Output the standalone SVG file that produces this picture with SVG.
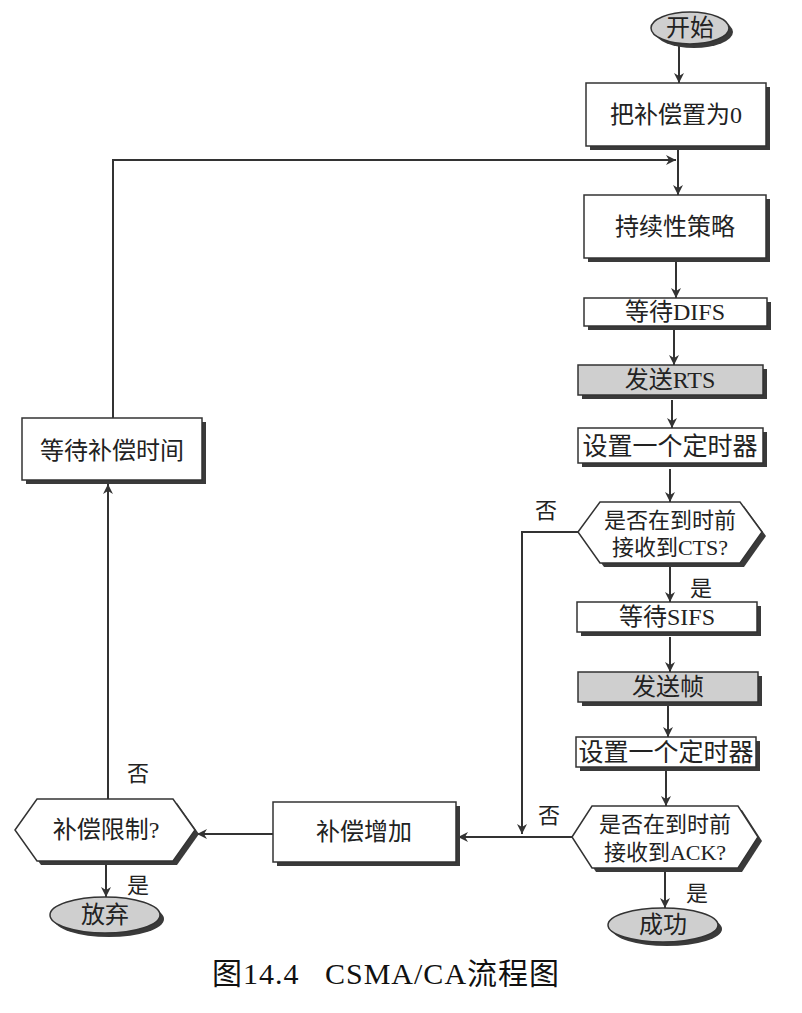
<svg xmlns="http://www.w3.org/2000/svg" width="802" height="1013" viewBox="0 0 802 1013">
<defs>
<style>
.bx{fill:#fff;stroke:#333;stroke-width:1.5}
.gb{fill:#cfcfcf;stroke:#333;stroke-width:1.5}
.sh{fill:#3a3a3a}
.t{font-family:"Liberation Serif","Noto Sans CJK SC",serif;font-size:24px;fill:#222;text-anchor:middle;dominant-baseline:central}
.lb{font-family:"Liberation Serif","Noto Sans CJK SC",serif;font-size:22px;fill:#222;text-anchor:middle;dominant-baseline:central}
.ln{fill:none;stroke:#333;stroke-width:2}
</style>
<marker id="ah" viewBox="0 0 10 10" refX="10" refY="5" markerWidth="10" markerHeight="10" markerUnits="userSpaceOnUse" orient="auto">
<path d="M0,0 L10,5 L0,10 L3,5 Z" fill="#333"/>
</marker>
</defs>
<rect width="802" height="1013" fill="#fff"/>

<g id="connectors">
<line class="ln" x1="679" y1="45" x2="679" y2="83" marker-end="url(#ah)"/>
<line class="ln" x1="678" y1="150" x2="678" y2="195" marker-end="url(#ah)"/>
<polyline class="ln" points="113,418 113,160 676,160" marker-end="url(#ah)"/>
<line class="ln" x1="676" y1="262" x2="676" y2="298" marker-end="url(#ah)"/>
<line class="ln" x1="674" y1="330" x2="674" y2="365" marker-end="url(#ah)"/>
<line class="ln" x1="672" y1="400" x2="672" y2="428" marker-end="url(#ah)"/>
<line class="ln" x1="670" y1="469" x2="670" y2="502" marker-end="url(#ah)"/>
<line class="ln" x1="670" y1="567" x2="670" y2="602" marker-end="url(#ah)"/>
<line class="ln" x1="670" y1="637" x2="670" y2="672" marker-end="url(#ah)"/>
<line class="ln" x1="668" y1="706" x2="668" y2="737" marker-end="url(#ah)"/>
<line class="ln" x1="666" y1="771" x2="666" y2="806" marker-end="url(#ah)"/>
<line class="ln" x1="665" y1="872" x2="665" y2="908" marker-end="url(#ah)"/>
<polyline class="ln" points="578,532 522,532 522,834" marker-end="url(#ah)"/>
<line class="ln" x1="572" y1="837" x2="458" y2="837" marker-end="url(#ah)"/>
<line class="ln" x1="273" y1="834" x2="197" y2="834" marker-end="url(#ah)"/>
<line class="ln" x1="108" y1="799" x2="108" y2="484" marker-end="url(#ah)"/>
<line class="ln" x1="106" y1="865" x2="106" y2="897" marker-end="url(#ah)"/>
<text class="lb" x="546" y="510">否</text>
<text class="lb" x="701" y="588">是</text>
<text class="lb" x="549" y="815">否</text>
<text class="lb" x="697" y="893">是</text>
<text class="lb" x="138" y="773">否</text>
<text class="lb" x="138" y="885">是</text>
</g>

<g id="start">
<ellipse class="sh" cx="694" cy="32" rx="39" ry="16"/>
<ellipse class="gb" cx="690" cy="28" rx="39" ry="16"/>
<text class="t" x="690" y="28">开始</text>
</g>
<g id="reset">
<rect class="sh" x="590" y="87" width="180" height="63"/>
<rect class="bx" x="586" y="83" width="180" height="63"/>
<text class="t" x="676" y="115">把补偿置为0</text>
</g>
<g id="persist">
<rect class="sh" x="588" y="199" width="182" height="63"/>
<rect class="bx" x="584" y="195" width="182" height="63"/>
<text class="t" x="675" y="227">持续性策略</text>
</g>
<g id="difs">
<rect class="sh" x="588" y="302" width="183" height="28"/>
<rect class="bx" x="584" y="298" width="183" height="28"/>
<text class="t" x="675" y="312">等待DIFS</text>
</g>
<g id="rts">
<rect class="sh" x="582" y="369" width="185" height="30"/>
<rect class="gb" x="578" y="365" width="185" height="30"/>
<text class="t" x="670" y="380">发送RTS</text>
</g>
<g id="timer1">
<rect class="sh" x="582" y="432" width="185" height="35"/>
<rect class="bx" x="578" y="428" width="185" height="35"/>
<text class="t" x="670" y="446" style="font-size:25px">设置一个定时器</text>
</g>
<g id="cts">
<polygon class="sh" points="582,536 604,506 744,506 766,536 744,567 604,567"/>
<polygon class="bx" points="578,532 600,502 740,502 762,532 740,563 600,563"/>
<text class="lb" x="670" y="520">是否在到时前</text>
<text class="lb" x="670" y="547">接收到CTS?</text>
</g>
<g id="sifs">
<rect class="sh" x="581" y="606" width="180" height="30"/>
<rect class="bx" x="577" y="602" width="180" height="30"/>
<text class="t" x="667" y="617">等待SIFS</text>
</g>
<g id="sendframe">
<rect class="sh" x="582" y="676" width="180" height="30"/>
<rect class="gb" x="578" y="672" width="180" height="30"/>
<text class="t" x="668" y="687">发送帧</text>
</g>
<g id="timer2">
<rect class="sh" x="580" y="741" width="180" height="30"/>
<rect class="bx" x="576" y="737" width="180" height="30"/>
<text class="t" x="666" y="752" style="font-size:25px">设置一个定时器</text>
</g>
<g id="ack">
<polygon class="sh" points="576,841 596,810 742,810 762,841 742,872 596,872"/>
<polygon class="bx" points="572,837 592,806 738,806 758,837 738,868 592,868"/>
<text class="lb" x="665" y="824">是否在到时前</text>
<text class="lb" x="665" y="852">接收到ACK?</text>
</g>
<g id="success">
<ellipse class="sh" cx="667" cy="929" rx="55" ry="17"/>
<ellipse class="gb" cx="663" cy="925" rx="55" ry="17"/>
<text class="t" x="663" y="925">成功</text>
</g>
<g id="increase">
<rect class="sh" x="277" y="806" width="183" height="60"/>
<rect class="bx" x="273" y="802" width="183" height="60"/>
<text class="t" x="364" y="832">补偿增加</text>
</g>
<g id="limit">
<polygon class="sh" points="19,834 41,803 177,803 199,834 177,865 41,865"/>
<polygon class="bx" points="15,830 37,799 173,799 195,830 173,861 37,861"/>
<text class="t" x="106" y="830">补偿限制?</text>
</g>
<g id="giveup">
<ellipse class="sh" cx="109" cy="919" rx="55" ry="18"/>
<ellipse class="gb" cx="105" cy="915" rx="55" ry="18"/>
<text class="t" x="105" y="915">放弃</text>
</g>
<g id="waitbackoff">
<rect class="sh" x="26" y="422" width="180" height="62"/>
<rect class="bx" x="22" y="418" width="180" height="62"/>
<text class="t" x="112" y="451">等待补偿时间</text>
</g>

<text x="212" y="973" xml:space="preserve" style="font-family:'Liberation Serif','Noto Sans CJK SC',serif;font-size:30px;letter-spacing:1px;fill:#111;dominant-baseline:central">图14.4   CSMA/CA流程图</text>
</svg>
